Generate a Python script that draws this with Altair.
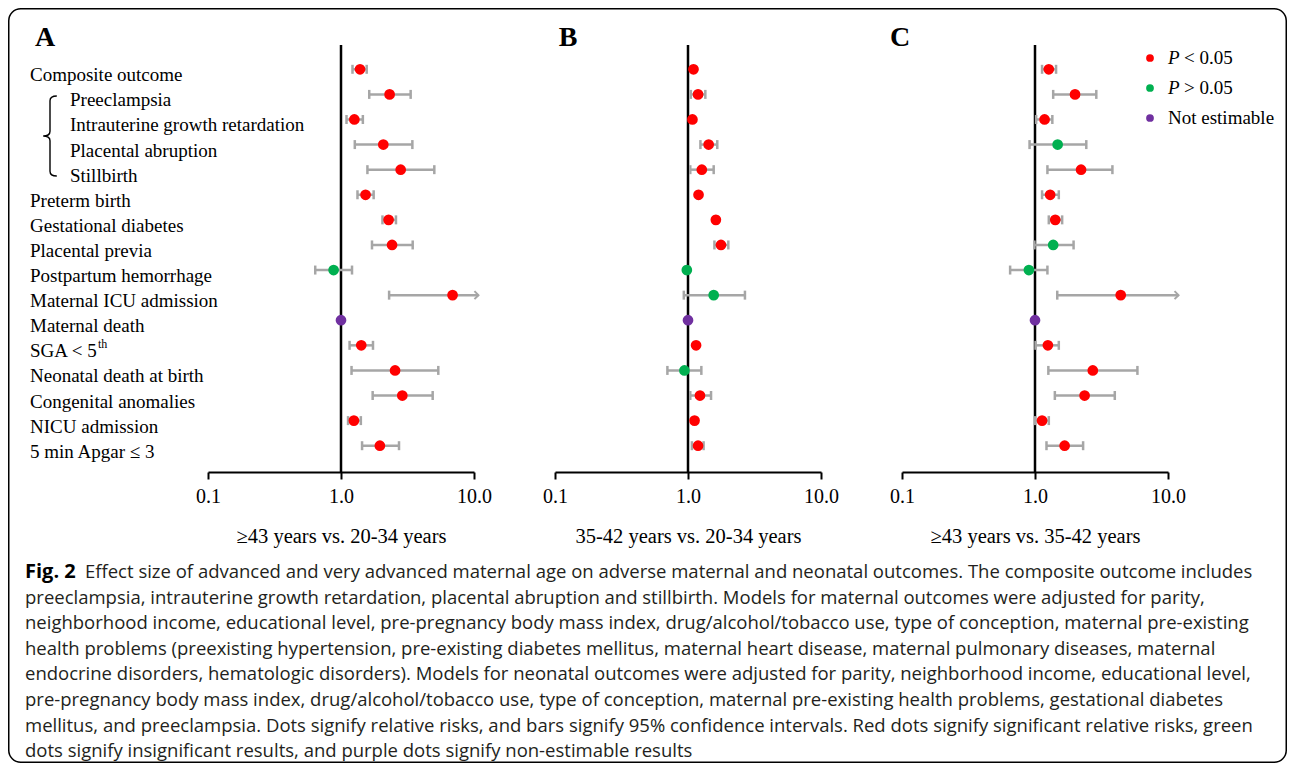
import altair as alt
import pandas as pd

# ---------------- data ----------------
outcomes = ["Composite outcome", "Preeclampsia", "Intrauterine growth retardation",
            "Placental abruption", "Stillbirth", "Preterm birth", "Gestational diabetes",
            "Placental previa", "Postpartum hemorrhage", "Maternal ICU admission",
            "Maternal death", "SGA < 5", "Neonatal death at birth", "Congenital anomalies",
            "NICU admission", "5 min Apgar \u2264 3"]
label_sup = ["", "", "", "", "", "", "", "", "", "", "", "th", "", "", "", ""]
composite_parts = ["Preeclampsia", "Intrauterine growth retardation", "Placental abruption", "Stillbirth"]

# A: >=43 vs 20-34
a_rr = [1.39, 2.32, 1.26, 2.08, 2.81, 1.53, 2.28, 2.42, 0.88, 6.90, 1.00, 1.42, 2.55, 2.89, 1.25, 1.96]
a_lo = [1.22, 1.63, 1.10, 1.27, 1.58, 1.33, 2.05, 1.71, 0.64, 2.30, None, 1.16, 1.20, 1.73, 1.13, 1.44]
a_hi = [1.56, 3.34, 1.46, 3.44, 5.03, 1.76, 2.59, 3.46, 1.21, 10.8, None, 1.74, 5.39, 4.89, 1.41, 2.73]
a_sig = ["sig", "sig", "sig", "sig", "sig", "sig", "sig", "sig", "ns", "sig", "ne", "sig", "sig", "sig", "sig", "sig"]

# B: 35-42 vs 20-34
b_rr = [1.10, 1.19, 1.08, 1.43, 1.27, 1.20, 1.62, 1.77, 0.98, 1.56, 1.00, 1.15, 0.94, 1.23, 1.12, 1.19]
b_lo = [1.07, 1.05, 1.05, 1.24, 1.04, 1.17, 1.58, 1.58, 0.95, 0.93, None, 1.12, 0.70, 1.04, 1.09, 1.07]
b_hi = [1.13, 1.35, 1.11, 1.66, 1.56, 1.23, 1.67, 2.01, 1.02, 2.68, None, 1.18, 1.26, 1.49, 1.15, 1.31]
b_sig = ["sig", "sig", "sig", "sig", "sig", "sig", "sig", "sig", "ns", "ns", "ne", "sig", "ns", "sig", "sig", "sig"]

# C: >=43 vs 35-42
c_rr = [1.27, 2.00, 1.18, 1.48, 2.22, 1.30, 1.42, 1.37, 0.90, 4.41, 1.00, 1.25, 2.72, 2.36, 1.13, 1.67]
c_lo = [1.13, 1.37, 1.02, 0.91, 1.24, 1.13, 1.27, 0.99, 0.65, 1.47, None, 1.01, 1.26, 1.41, 1.00, 1.22]
c_hi = [1.44, 2.89, 1.35, 2.43, 3.82, 1.51, 1.60, 1.95, 1.24, 12.0, None, 1.51, 5.89, 3.98, 1.27, 2.30]
c_sig = ["sig", "sig", "sig", "ns", "sig", "sig", "sig", "ns", "ns", "sig", "ne", "sig", "sig", "sig", "sig", "sig"]

panel_letters = ["A", "B", "C"]
panel_titles = ["\u226543 years vs. 20-34 years", "35-42 years vs. 20-34 years", "\u226543 years vs. 35-42 years"]
tick_values = [0.1, 1, 10]

sig_keys = ["sig", "ns", "ne"]
sig_colors = ["#FF0000", "#00B050", "#7030A0"]
legend_italic = ["P", "P", ""]
legend_rest = ["< 0.05", "> 0.05", "Not estimable"]

caption_bold = "Fig. 2"
caption_first = "Effect size of advanced and very advanced maternal age on adverse maternal and neonatal outcomes. The composite outcome includes"
caption_lines = [
    "preeclampsia, intrauterine growth retardation, placental abruption and stillbirth. Models for maternal outcomes were adjusted for parity,",
    "neighborhood income, educational level, pre-pregnancy body mass index, drug/alcohol/tobacco use, type of conception, maternal pre-existing",
    "health problems (preexisting hypertension, pre-existing diabetes mellitus, maternal heart disease, maternal pulmonary diseases, maternal",
    "endocrine disorders, hematologic disorders). Models for neonatal outcomes were adjusted for parity, neighborhood income, educational level,",
    "pre-pregnancy body mass index, drug/alcohol/tobacco use, type of conception, maternal pre-existing health problems, gestational diabetes",
    "mellitus, and preeclampsia. Dots signify relative risks, and bars signify 95% confidence intervals. Red dots signify significant relative risks, green",
    "dots signify insignificant results, and purple dots signify non-estimable results",
]

# ---------------- styling ----------------
SERIF = "Liberation Serif"
SANS = "Open Sans"
CAP_SIZE = 18.5
W, H = 266, 427
GRAY = "#A6A6A6"
BRACE = ("M 0.17 -1 C 0.05 -1 0 -0.97 0 -0.88 L 0 -0.12 C 0 -0.04 -0.07 0 -0.17 0 "
         "C -0.07 0 0 0.04 0 0.12 L 0 0.88 C 0 0.97 0.05 1 0.17 1")
ARROW = "M -1 -1 L 0 0 L -1 1"

one = pd.DataFrame({"k": [0]})

yenc = alt.Y("outcome:N", scale=alt.Scale(type="point", domain=outcomes, range=[24.3, 400.7], padding=0), axis=None)
color = alt.Color("sig:N", scale=alt.Scale(domain=sig_keys, range=sig_colors), legend=None)


def xaxis(title):
    return alt.Axis(values=tick_values, format=".1f", title=title, grid=False,
                    domainColor="black", domainWidth=2, tickColor="black", tickWidth=2,
                    tickSize=7, labelFlush=False, labelFont=SERIF, labelFontSize=20,
                    labelColor="black", labelPadding=7, titleFont=SERIF, titleFontSize=20.5,
                    titleFontWeight="normal", titleColor="black", titlePadding=20)


def panel(i, rr, lo, hi, sig):
    df = pd.DataFrame({"outcome": outcomes, "rr": rr, "lo": lo, "hi": hi, "sig": sig})
    xs = alt.Scale(type="log", domain=[0.1, 10])
    ax = xaxis(panel_titles[i])
    base = alt.Chart(df)
    vline = alt.Chart(one).mark_rule(color="black", strokeWidth=2.5).encode(
        x=alt.X(datum=1, type="quantitative", scale=xs, axis=ax))
    bars = base.mark_rule(color=GRAY, strokeWidth=2.5).transform_filter("isValid(datum.lo)").encode(
        x=alt.X("lo:Q", scale=xs, axis=ax), x2="hi:Q", y=yenc)
    cap_lo = base.mark_tick(color=GRAY, thickness=2.5, size=9, opacity=1).transform_filter(
        "isValid(datum.lo)").encode(x=alt.X("lo:Q", scale=xs, axis=ax), y=yenc)
    cap_hi = base.mark_tick(color=GRAY, thickness=2.5, size=9, opacity=1).transform_filter(
        "isValid(datum.hi) && datum.hi <= 10").encode(x=alt.X("hi:Q", scale=xs, axis=ax), y=yenc)
    arrow = base.mark_point(shape=ARROW, size=64, filled=False, stroke=GRAY, strokeWidth=2,
                            opacity=1).transform_filter("datum.hi > 10").encode(
        x=alt.X("hi:Q", scale=xs, axis=ax), y=yenc)
    dots = base.mark_circle(size=115, opacity=1).encode(
        x=alt.X("rr:Q", scale=xs, axis=ax), y=yenc, color=color)
    letter_x = [-163, 13, -2][i]
    letter = alt.Chart(one).mark_text(text=panel_letters[i], font=SERIF, fontSize=28,
                                      fontWeight="bold", align="center", baseline="middle",
                                      color="black").encode(x=alt.value(letter_x), y=alt.value(-7))
    layers = [vline, bars, cap_lo, cap_hi, arrow, dots, letter]
    return layers, df


# ---- panel A ----
layers_a, df_a = panel(0, a_rr, a_lo, a_hi, a_sig)
lab_df = pd.DataFrame({"outcome": outcomes, "sup": label_sup})
part_pred = alt.FieldOneOfPredicate(field="outcome", oneOf=composite_parts)
labels_main = alt.Chart(lab_df).mark_text(font=SERIF, fontSize=19, align="left", baseline="middle",
                                          color="black", dy=6).transform_filter(
    {"not": part_pred}).encode(x=alt.value(-178), y=yenc, text="outcome:N")
labels_sub = alt.Chart(lab_df).mark_text(font=SERIF, fontSize=19, align="left", baseline="middle",
                                         color="black", dy=6).transform_filter(
    part_pred).encode(x=alt.value(-138), y=yenc, text="outcome:N")
sups = alt.Chart(lab_df).mark_text(font=SERIF, fontSize=12, align="left", baseline="middle",
                                   color="black", dy=-1).transform_filter("datum.sup != ''").encode(
    x=alt.value(-178 + 68), y=yenc, text="sup:N")
brace = alt.Chart(one).mark_point(shape=BRACE, size=6400, filled=False, stroke="black",
                                  strokeWidth=1.4, opacity=1).encode(x=alt.value(-158), y=alt.value(91))
cap_b = alt.Chart(one).mark_text(text=caption_bold, font=SANS, fontSize=20, fontWeight="bold",
                                 align="left", baseline="alphabetic", color="black").encode(
    x=alt.value(-183), y=alt.value(533))
cap_1 = alt.Chart(one).mark_text(text=caption_first, font=SANS, fontSize=CAP_SIZE, align="left",
                                 baseline="alphabetic", color="#231F20").encode(
    x=alt.value(-123), y=alt.value(533))
cap_rest = alt.Chart(one).mark_text(text=caption_lines, font=SANS, fontSize=CAP_SIZE, align="left",
                                    baseline="alphabetic", lineHeight=25.6, color="#231F20").encode(
    x=alt.value(-183), y=alt.value(558.6))
# frame: outer edge from x=-200 to 1079 and y=-37 to 718 relative to panel A's plot origin
border = alt.Chart(one).mark_rect(fillOpacity=0, stroke="black", strokeWidth=1.5, cornerRadius=12).encode(
    x=alt.value(-199.25), x2=alt.value(1078.25), y=alt.value(-36.25), y2=alt.value(717.25))

chart_a = alt.layer(border, *layers_a, labels_main, labels_sub, sups, brace, cap_b, cap_1,
                    cap_rest).properties(width=W, height=H)

# ---- panel B ----
layers_b, _ = panel(1, b_rr, b_lo, b_hi, b_sig)
chart_b = alt.layer(*layers_b).properties(width=W, height=H)

# ---- panel C ----
layers_c, _ = panel(2, c_rr, c_lo, c_hi, c_sig)
legend_layers = []
for j in range(3):
    ly = 13 + 30 * j
    legend_layers.append(alt.Chart(one).mark_circle(size=60, opacity=1, color=sig_colors[j]).encode(
        x=alt.value(248), y=alt.value(ly)))
    if legend_italic[j]:
        legend_layers.append(alt.Chart(one).mark_text(text=legend_italic[j], font=SERIF, fontSize=19,
                                                      fontStyle="italic", align="left", baseline="middle",
                                                      color="black").encode(x=alt.value(266), y=alt.value(ly)))
        tx = 282
    else:
        tx = 266
    legend_layers.append(alt.Chart(one).mark_text(text=legend_rest[j], font=SERIF, fontSize=19,
                                                  align="left", baseline="middle",
                                                  color="black").encode(x=alt.value(tx), y=alt.value(ly)))
chart_c = alt.layer(*layers_c, *legend_layers).properties(width=W, height=H)

chart = alt.hconcat(chart_a, chart_b, chart_c, spacing=81, bounds="flush").configure_view(
    stroke=None).properties(padding={"left": 0, "top": 0, "right": 0, "bottom": 0}, background="white")

chart.save("out.html", embed_options={"renderer": "svg", "actions": False})
